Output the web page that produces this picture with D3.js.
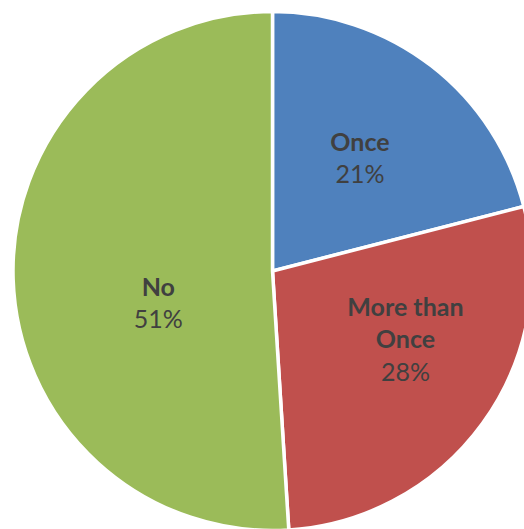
<!DOCTYPE html>
<html>
<head>
<meta charset="utf-8">
<script src="https://cdn.jsdelivr.net/npm/d3@7"></script>
<style>
  html, body { margin: 0; padding: 0; background: #ffffff; overflow: hidden; }
  svg { display: block; }
</style>
</head>
<body>
<svg id="chart" width="524" height="529"></svg>
<script>
// Survey answers and their shares (percent)
const categories = ["Once", "More than Once", "No"];
const values = [21, 28, 51];
const labelLines = [["Once"], ["More than", "Once"], ["No"]];
const colors = ["#4F81BD", "#C0504D", "#9BBB59"];

const width = 524, height = 529;
const cx = 272.5, cy = 271, radius = 259.5;

const svg = d3.select("#chart");
const g = svg.append("g").attr("transform", `translate(${cx},${cy})`);

const pie = d3.pie().sort(null).value(d => d.value);
const arcs = pie(categories.map((c, i) => ({ name: c, value: values[i], lines: labelLines[i] })));

const arc = d3.arc().innerRadius(0).outerRadius(radius);
const labelArc = d3.arc().innerRadius(radius * 0.55).outerRadius(radius * 0.55);

const color = d3.scaleOrdinal().domain(categories).range(colors);

g.selectAll("path.slice")
  .data(arcs)
  .join("path")
  .attr("class", "slice")
  .attr("d", arc)
  .attr("fill", d => color(d.data.name))
  .attr("stroke", "#ffffff")
  .attr("stroke-width", 3.5)
  .attr("stroke-linejoin", "miter");

// Data labels: category name (bold) over the percentage, nudged to sit inside each slice
const nudge = { "Once": [0, 0], "More than Once": [17.5, -15.5], "No": [28.5, 28] };
const fontSize = 25;
const lineH = 32.5;
const fmt = d3.format(".0%");

const labels = g.selectAll("text.label")
  .data(arcs)
  .join("text")
  .attr("class", "label")
  .attr("text-anchor", "middle")
  .attr("fill", "#404040")
  .style("font-family", "Lato, 'Open Sans', sans-serif")
  .style("font-size", fontSize + "px")
  .attr("transform", d => {
    const [x, y] = labelArc.centroid(d);
    const [nx, ny] = nudge[d.data.name];
    return `translate(${x + nx},${y + ny})`;
  });

labels.each(function(d) {
  const t = d3.select(this);
  const lines = d.data.lines.concat([fmt(d.data.value / 100)]);
  const n = lines.length;
  lines.forEach((s, i) => {
    t.append("tspan")
      .attr("x", 0)
      .attr("y", (i - (n - 1) / 2) * lineH + fontSize * 0.35)
      .style("font-weight", i < n - 1 ? "bold" : "normal")
      .text(s);
  });
});
</script>
</body>
</html>
